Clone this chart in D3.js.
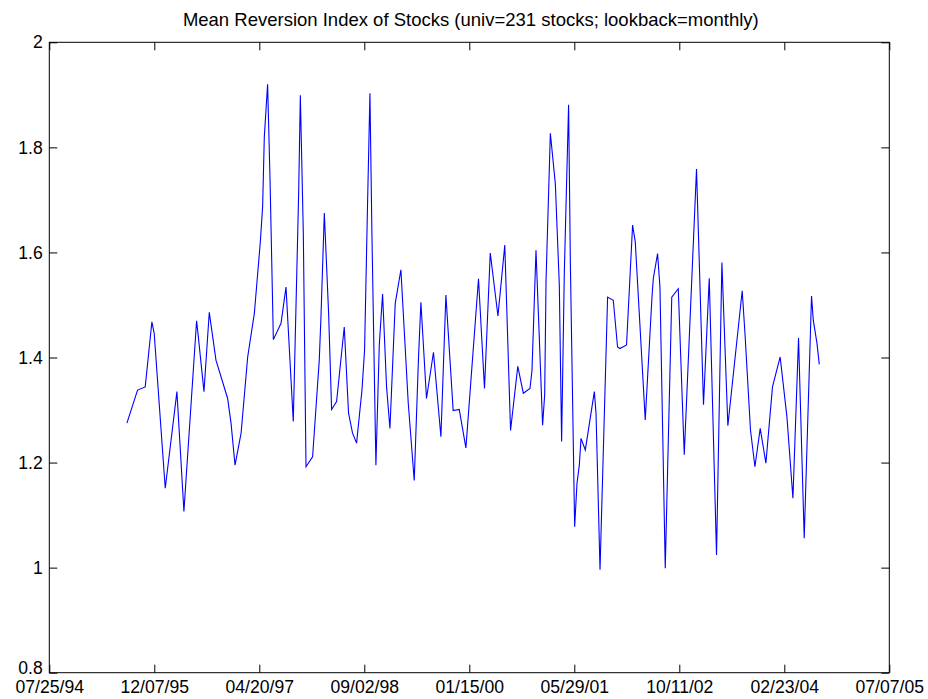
<!DOCTYPE html>
<html lang="en">
  <head>
    <meta charset="utf-8">
    <title>Mean Reversion Index of Stocks</title>
    <script src="https://cdnjs.cloudflare.com/ajax/libs/d3/7.8.5/d3.min.js"></script>
    <style type="text/css">
    body { margin: 0; background: #fff; }
    text { font-family: "Liberation Sans", Arial, sans-serif; fill: #000; }
    </style>
  </head>
  <body>
    <script type="text/javascript">
    var w = 928;
    var h = 699;
    var margin = {top: 42.3, right: 38.7, bottom: 26.3, left: 49.3};

    var title = "Mean Reversion Index of Stocks (univ=231 stocks; lookback=monthly)";

    // dates as decimal years
    var dates = [
      1995.574, 1995.713, 1995.813, 1995.900, 1995.930, 1996.074, 1996.226, 1996.317,
      1996.482, 1996.500, 1996.578, 1996.647, 1996.734, 1996.886, 1996.930, 1996.982,
      1997.061, 1997.147, 1997.234, 1997.312, 1997.342, 1997.364, 1997.407, 1997.439,
      1997.482, 1997.582, 1997.647, 1997.742, 1997.812, 1997.834, 1997.873, 1997.908,
      1997.994, 1998.081, 1998.103, 1998.147, 1998.203, 1998.242, 1998.307, 1998.407,
      1998.463, 1998.515, 1998.568, 1998.638, 1998.672, 1998.711, 1998.742, 1998.768,
      1998.820, 1998.864, 1998.907, 1998.959, 1999.003, 1999.072, 1999.146, 1999.242,
      1999.320, 1999.376, 1999.407, 1999.480, 1999.571, 1999.668, 1999.733, 1999.828,
      1999.907, 1999.994, 2000.158, 2000.236, 2000.311, 2000.411, 2000.500, 2000.575,
      2000.669, 2000.741, 2000.828, 2000.854, 2000.906, 2000.992, 2001.019, 2001.037,
      2001.093, 2001.158, 2001.210, 2001.240, 2001.275, 2001.331, 2001.354, 2001.410,
      2001.441, 2001.471, 2001.493, 2001.549, 2001.667, 2001.689, 2001.741, 2001.840,
      2001.914, 2001.970, 2002.001, 2002.087, 2002.166, 2002.201, 2002.331, 2002.419,
      2002.436, 2002.492, 2002.523, 2002.592, 2002.677, 2002.762, 2002.840, 2003.000,
      2003.091, 2003.166, 2003.261, 2003.331, 2003.409, 2003.596, 2003.635, 2003.704,
      2003.762, 2003.831, 2003.905, 2003.991, 2004.091, 2004.179, 2004.257, 2004.330,
      2004.404, 2004.499, 2004.522, 2004.570, 2004.600
    ];

    // mean reversion index
    var mri = [
      1.275, 1.338, 1.344, 1.468, 1.446, 1.151, 1.335, 1.107,
      1.470, 1.446, 1.335, 1.486, 1.395, 1.322, 1.275, 1.195,
      1.256, 1.401, 1.484, 1.620, 1.687, 1.820, 1.920, 1.737,
      1.434, 1.465, 1.534, 1.278, 1.712, 1.899, 1.636, 1.192,
      1.211, 1.395, 1.477, 1.675, 1.484, 1.301, 1.316, 1.458,
      1.294, 1.256, 1.237, 1.338, 1.414, 1.693, 1.903, 1.636,
      1.195, 1.424, 1.521, 1.344, 1.265, 1.503, 1.567, 1.313,
      1.166, 1.401, 1.505, 1.322, 1.410, 1.249, 1.519, 1.299,
      1.301, 1.228, 1.550, 1.341, 1.599, 1.479, 1.614, 1.261,
      1.383, 1.332, 1.341, 1.376, 1.604, 1.271, 1.329, 1.547,
      1.827, 1.731, 1.538, 1.240, 1.560, 1.881, 1.582, 1.078,
      1.161, 1.195, 1.246, 1.224, 1.335, 1.294, 0.996, 1.515,
      1.509, 1.420, 1.417, 1.424, 1.652, 1.620, 1.281, 1.515,
      1.550, 1.598, 1.534, 0.999, 1.515, 1.531, 1.215, 1.759,
      1.310, 1.551, 1.024, 1.581, 1.270, 1.527, 1.439, 1.262,
      1.192, 1.265, 1.199, 1.344, 1.401, 1.287, 1.132, 1.437,
      1.056, 1.517, 1.471, 1.427, 1.387
    ];

    var yTicks = [0.8, 1, 1.2, 1.4, 1.6, 1.8, 2];
    var xTickStart = "07/25/94";   // ticks every 500 days
    var xTickStep = 500;
    var xTickCount = 9;

    var parseDate = d3.timeParse("%m/%d/%y");
    var fmtDate = d3.timeFormat("%m/%d/%y");

    function fromDecYear(y) {
      var yr = Math.floor(y);
      var a = new Date(yr, 0, 1), b = new Date(yr + 1, 0, 1);
      return new Date(+a + (y - yr) * (b - a));
    }

    var t0 = parseDate(xTickStart);
    var xTicks = d3.range(xTickCount).map(function(k) { return d3.timeDay.offset(t0, k * xTickStep); });

    var points = dates.map(function(d, i) { return {date: fromDecYear(d), value: mri[i]}; });

    var svg = d3.select("body")
      .append("svg")
      .attr("width", w)
      .attr("height", h);

    svg.append("rect").attr("width", w).attr("height", h).attr("fill", "#fff");

    var x = d3.scaleTime()
      .domain([xTicks[0], xTicks[xTicks.length - 1]])
      .range([margin.left, w - margin.right]);

    var y = d3.scaleLinear()
      .domain([0.8, 2])
      .range([h - margin.bottom, margin.top]);

    var tickLen = 8;

    // bottom axis with labels, ticks pointing inward
    var xAxis = svg.append("g")
      .attr("transform", "translate(0," + y(0.8) + ")")
      .call(d3.axisBottom(x).tickValues(xTicks).tickFormat(fmtDate).tickSizeInner(-tickLen).tickSizeOuter(0).tickPadding(8));
    xAxis.select(".domain").remove();
    xAxis.selectAll("text")
      .attr("font-size", "17.6px")
      .attr("font-family", "Liberation Sans, Arial, sans-serif");

    // top ticks
    var xTop = svg.append("g")
      .attr("transform", "translate(0," + y(2) + ")")
      .call(d3.axisTop(x).tickValues(xTicks).tickFormat("").tickSizeInner(-tickLen).tickSizeOuter(0));
    xTop.select(".domain").remove();

    // left axis with labels
    var yAxis = svg.append("g")
      .attr("transform", "translate(" + x(xTicks[0]) + ",0)")
      .call(d3.axisLeft(y).tickValues(yTicks).tickFormat(d3.format("")).tickSizeInner(-tickLen).tickSizeOuter(0).tickPadding(6.5));
    yAxis.select(".domain").remove();
    yAxis.selectAll("text")
      .attr("font-size", "17.6px")
      .attr("font-family", "Liberation Sans, Arial, sans-serif")
      .attr("dy", function(d) { return d === 0.8 ? "0.02em" : "0.32em"; });

    // right ticks
    var yRight = svg.append("g")
      .attr("transform", "translate(" + x(xTicks[xTicks.length - 1]) + ",0)")
      .call(d3.axisRight(y).tickValues(yTicks).tickFormat("").tickSizeInner(-tickLen).tickSizeOuter(0));
    yRight.select(".domain").remove();

    svg.selectAll(".tick line").attr("stroke", "#000").attr("stroke-width", 1);

    // axes box
    svg.append("rect")
      .attr("x", x(xTicks[0]))
      .attr("y", y(2))
      .attr("width", x(xTicks[xTicks.length - 1]) - x(xTicks[0]))
      .attr("height", y(0.8) - y(2))
      .attr("fill", "none")
      .attr("stroke", "#000")
      .attr("stroke-width", 1);

    var line = d3.line()
      .x(function(d) { return x(d.date); })
      .y(function(d) { return y(d.value); });

    svg.append("path")
      .datum(points)
      .attr("d", line)
      .attr("fill", "none")
      .attr("stroke", "#0000ff")
      .attr("stroke-width", 1.1);

    svg.append("text")
      .attr("x", (x(xTicks[0]) + x(xTicks[xTicks.length - 1])) / 2 + 1.5)
      .attr("y", 25.7)
      .attr("text-anchor", "middle")
      .attr("font-size", "18.5px")
      .text(title);
    </script>
  </body>
</html>
